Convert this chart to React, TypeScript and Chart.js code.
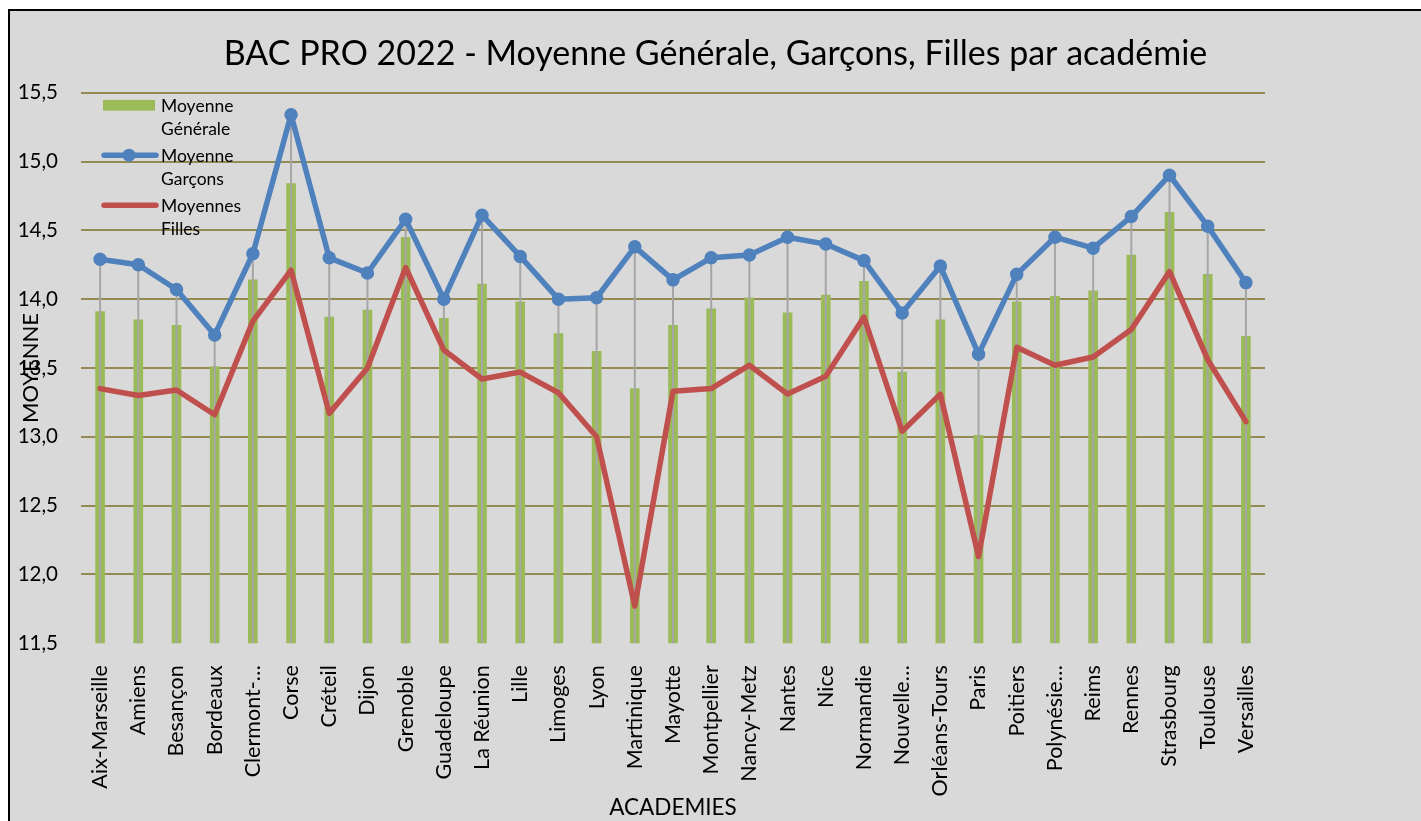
import React, { useEffect, useRef } from "react";
import { Chart, registerables } from "chart.js";

Chart.register(...registerables);

const categories = [
  "Aix-Marseille", "Amiens", "Besançon", "Bordeaux", "Clermont-…", "Corse", "Créteil", "Dijon",
  "Grenoble", "Guadeloupe", "La Réunion", "Lille", "Limoges", "Lyon", "Martinique", "Mayotte",
  "Montpellier", "Nancy-Metz", "Nantes", "Nice", "Normandie", "Nouvelle…", "Orléans-Tours", "Paris",
  "Poitiers", "Polynésie…", "Reims", "Rennes", "Strasbourg", "Toulouse", "Versailles",
];

const moyenneGenerale = [
  13.91, 13.85, 13.81, 13.51, 14.14, 14.84, 13.87, 13.92, 14.45, 13.86, 14.11, 13.98, 13.75, 13.62, 13.35, 13.81,
  13.93, 14.01, 13.9, 14.03, 14.13, 13.47, 13.85, 13.01, 13.98, 14.02, 14.06, 14.32, 14.63, 14.18, 13.73,
];

const moyenneGarcons = [
  14.29, 14.25, 14.07, 13.74, 14.33, 15.34, 14.3, 14.19, 14.58, 14.0, 14.61, 14.31, 14.0, 14.01, 14.38, 14.14,
  14.3, 14.32, 14.45, 14.4, 14.28, 13.9, 14.24, 13.6, 14.18, 14.45, 14.37, 14.6, 14.9, 14.53, 14.12,
];

const moyenneFilles = [
  13.35, 13.3, 13.34, 13.16, 13.84, 14.21, 13.17, 13.5, 14.23, 13.63, 13.42, 13.47, 13.32, 13.0, 11.77, 13.33,
  13.35, 13.52, 13.31, 13.44, 13.87, 13.04, 13.31, 12.13, 13.65, 13.52, 13.58, 13.78, 14.2, 13.56, 13.11,
];

const seriesNames = ["Moyenne Générale", "Moyenne Garçons", "Moyennes Filles"];
const legendLines = [["Moyenne", "Générale"], ["Moyenne", "Garçons"], ["Moyennes", "Filles"]];
const titleText = "BAC PRO 2022 - Moyenne Générale, Garçons, Filles par académie";
const xTitle = "ACADEMIES";
const yTitle = "MOYENNE";
const Y_MIN = 11.5;
const Y_MAX = 15.5;
const Y_STEP = 0.5;

const FONT = "Lato, 'Open Sans', sans-serif";
const GREEN = "#9bbb59";
const BLUE = "#4f81bd";
const RED = "#c0504d";
const GRID = "#948a54";
const DROP = "#a6a6a6";
const BG = "#d9d9d9";

const dropLines = {
  id: "dropLines",
  afterDatasetDraw(chart: any, args: any) {
    if (args.index !== 0) return;
    const { ctx, chartArea, scales } = chart;
    const x = scales.x;
    const y = scales.y;
    ctx.save();
    ctx.strokeStyle = DROP;
    ctx.lineWidth = 2;
    categories.forEach((_, i) => {
      const top = Math.max(moyenneGarcons[i], moyenneFilles[i]);
      const px = x.getPixelForValue(i);
      ctx.beginPath();
      ctx.moveTo(px, y.getPixelForValue(top));
      ctx.lineTo(px, chartArea.bottom);
      ctx.stroke();
    });
    ctx.restore();
  },
};

const customLegend = {
  id: "customLegend",
  afterDraw(chart: any) {
    const { ctx, chartArea } = chart;
    const symX = chartArea.left + 21;
    const symW = 54;
    const textX = chartArea.left + 80;
    const firstY = chartArea.top + 12.5;
    const gap = 50;
    const lineH = 23.3;
    ctx.save();
    ctx.font = `17.5px ${FONT}`;
    ctx.fillStyle = "#000";
    ctx.textBaseline = "middle";
    ctx.textAlign = "left";
    legendLines.forEach((lines, i) => {
      const cy = firstY + i * gap;
      if (i === 0) {
        ctx.fillStyle = GREEN;
        ctx.fillRect(symX + 1, cy - 5.3, 52, 10.7);
      } else {
        const color = i === 1 ? BLUE : RED;
        ctx.strokeStyle = color;
        ctx.lineWidth = 5.5;
        ctx.lineCap = "round";
        ctx.beginPath();
        ctx.moveTo(symX + 2, cy);
        ctx.lineTo(symX + symW, cy);
        ctx.stroke();
        if (i === 1) {
          ctx.fillStyle = color;
          ctx.beginPath();
          ctx.arc(symX + symW / 2, cy, 6.5, 0, Math.PI * 2);
          ctx.fill();
        }
      }
      ctx.fillStyle = "#000";
      lines.forEach((t, k) => ctx.fillText(t, textX, cy + k * lineH + 1));
    });
    ctx.restore();
  },
};

export default function App() {
  const ref = useRef<HTMLCanvasElement>(null);

  useEffect(() => {
    Chart.defaults.font.family = FONT;
    const chart = new Chart(ref.current as HTMLCanvasElement, {
      type: "bar",
      data: {
        labels: categories,
        datasets: [
          {
            type: "bar",
            label: seriesNames[0],
            data: moyenneGenerale,
            backgroundColor: GREEN,
            barThickness: 9,
            order: 3,
          } as any,
          {
            type: "line",
            label: seriesNames[1],
            data: moyenneGarcons,
            borderColor: BLUE,
            backgroundColor: BLUE,
            borderWidth: 5.5,
            pointRadius: 6,
            pointBorderWidth: 1.5,
            pointBackgroundColor: BLUE,
            pointBorderColor: BLUE,
            tension: 0,
            borderJoinStyle: "round",
            borderCapStyle: "round",
            order: 1,
          } as any,
          {
            type: "line",
            label: seriesNames[2],
            data: moyenneFilles,
            borderColor: RED,
            backgroundColor: RED,
            borderWidth: 5.5,
            pointRadius: 0,
            tension: 0,
            borderJoinStyle: "round",
            borderCapStyle: "round",
            order: 2,
          } as any,
        ],
      },
      options: {
        responsive: false,
        animation: false,
        layout: { padding: { left: 0, right: 0, top: 0, bottom: 0 } },
        plugins: {
          legend: { display: false },
          tooltip: { enabled: false },
          title: {
            display: true,
            text: titleText,
            color: "#000",
            font: { size: 34, family: FONT, weight: "normal" as any },
            padding: { top: 22.6, bottom: 18.3 },
          },
        },
        scales: {
          x: {
            grid: { display: false },
            border: { display: false },
            ticks: {
              autoSkip: false,
              maxRotation: 90,
              minRotation: 90,
              padding: 14,
              color: "#000",
              font: { size: 21.5, family: FONT },
            },
            title: {
              display: true,
              text: xTitle,
              color: "#000",
              font: { size: 22.5, family: FONT },
              padding: { top: 0, bottom: 0 },
            },
            afterFit(s: any) {
              s.height = 177.8;
            },
          },
          y: {
            min: Y_MIN,
            max: Y_MAX,
            ticks: {
              stepSize: Y_STEP,
              padding: 23,
              color: "#000",
              font: { size: 20.5, family: FONT },
              callback: (v: any) => Number(v).toFixed(1).replace(".", ","),
            },
            grid: {
              color: (c: any) => (c.tick && c.tick.value === Y_MIN ? "rgba(0,0,0,0)" : GRID),
              lineWidth: 2,
              drawTicks: false,
            },
            border: { display: false },
            title: {
              display: true,
              text: yTitle,
              color: "#000",
              font: { size: 22, family: FONT },
              padding: { top: 8, bottom: 0 },
            },
            afterFit(s: any) {
              s.width = 71;
            },
          },
          yRight: {
            position: "right",
            display: true,
            grid: { display: false },
            border: { display: false },
            ticks: { display: false },
            afterFit(s: any) {
              s.width = 156;
            },
          },
        },
      } as any,
      plugins: [dropLines, customLegend],
    });
    return () => chart.destroy();
  }, []);

  return (
    <div
      style={{
        position: "fixed",
        left: 8,
        top: 9,
        right: 0,
        bottom: 0,
        borderLeft: "2px solid #000",
        borderTop: "2px solid #000",
        background: BG,
        overflow: "hidden",
      }}
    >
      <canvas ref={ref} width={1411} height={810} style={{ display: "block" }} />
    </div>
  );
}
